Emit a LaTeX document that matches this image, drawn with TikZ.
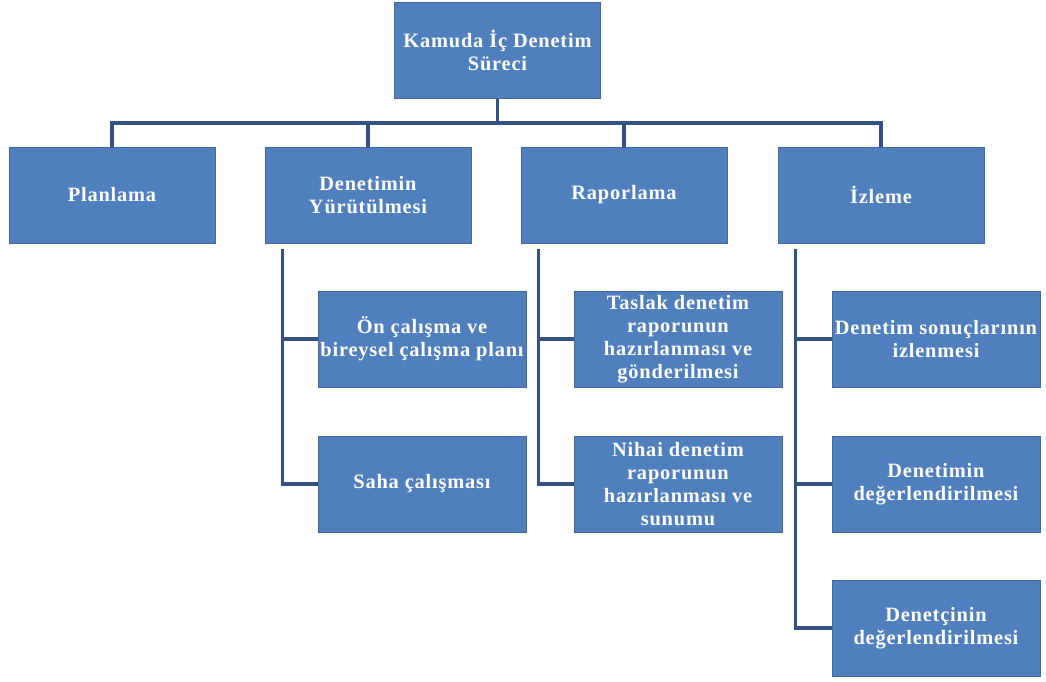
\documentclass[tikz,border=0pt]{standalone}
\usepackage{fontspec}
\setmainfont{Liberation Serif}[LetterSpace=4]
\usepackage{tikz}
\definecolor{boxblue}{HTML}{4F80BD}
\definecolor{boxedge}{HTML}{41699F}
\definecolor{linkblue}{HTML}{34527F}

\begin{document}
\begin{tikzpicture}[x=0.025cm,y=-0.025cm]
    \tikzstyle{box}=[rectangle,fill=boxblue,draw=boxedge,line width=0.6pt,text=white,
        font=\fontsize{14.5}{16.5}\selectfont\bfseries,align=center,
        minimum width=5.15cm,minimum height=2.4cm,inner sep=0pt]
    \tikzstyle{sub}=[box, minimum width=5.2cm];
    \tikzstyle{link}=[draw=linkblue,line width=2.4pt];

\useasboundingbox (0,0) rectangle (1046,682);

\node[box] (top) at (497.5,50.5) {Kamuda İç Denetim\\Süreci};

\node[box] (plan) at (112,195) {Planlama};
\node[box] (den) at (368,195) {Denetimin\\Yürütülmesi};
\node[box] (rap) at (624,195) {Raporlama};
\node[box] (izl) at (881,195) {İzleme};

\node[sub] (den1) at (422,339) {Ön çalışma ve\\bireysel çalışma planı};
\node[sub] (den2) at (422,484) {Saha çalışması};
\node[sub] (rap1) at (678,339) {Taslak denetim\\raporunun\\hazırlanması ve\\gönderilmesi};
\node[sub] (rap2) at (678,484) {Nihai denetim\\raporunun\\hazırlanması ve\\sunumu};
\node[sub] (izl1) at (936,339) {Denetim sonuçlarının\\izlenmesi};
\node[sub] (izl2) at (936,484) {Denetimin\\değerlendirilmesi};
\node[sub] (izl3) at (936,628) {Denetçinin\\değerlendirilmesi};

\coordinate (bus) at (497.5,123);
\draw[link] (top.south) -- (bus);
\draw[link] (plan.north) |- (bus) -| (izl.north);
\draw[link] (den.north) -- (den.north |- bus);
\draw[link] (rap.north) -- (rap.north |- bus);

\foreach \a/\b in {den/den1,den/den2,rap/rap1,rap/rap2,izl/izl1,izl/izl2,izl/izl3}
    \draw[link] ([xshift=0.45cm,yshift=-0.15cm]\a.south west) |- (\b.west);
\end{tikzpicture}
\end{document}
